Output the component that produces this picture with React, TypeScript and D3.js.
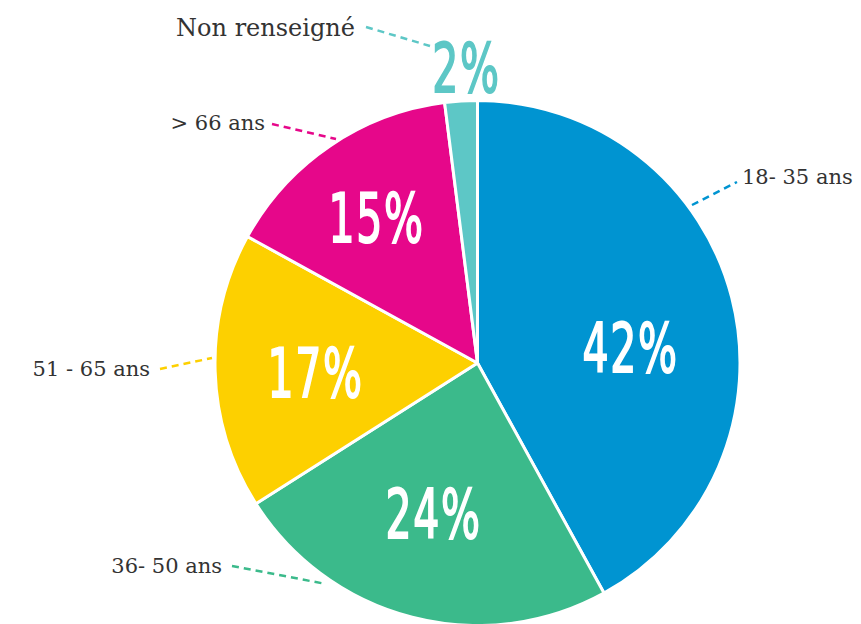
import React from "react";
import * as d3 from "d3";

const categories = ["18- 35 ans", "36- 50 ans", "51 - 65 ans", "> 66 ans", "Non renseigné"];
const values = [42, 24, 17, 15, 2];
const colors = ["#0094d1", "#3bba8b", "#fdd000", "#e6078a", "#5dc7c6"];

// layout: percent label positions (offsets from centre) and outside label anchors
const pctPos: [number, number][] = [[153, 9], [-44, 175], [-162, 34], [-101, -121], [-11, -271]];
const labelPos: { x: number; y: number; size: number; anchor: string; line: [number, number, number, number] }[] = [
  { x: 742, y: 184, size: 21, anchor: "start", line: [692, 205, 737, 182] },
  { x: 222, y: 573, size: 21, anchor: "end", line: [232, 566, 326, 584] },
  { x: 150, y: 376, size: 21, anchor: "end", line: [160, 369, 212, 358] },
  { x: 265, y: 130, size: 21, anchor: "end", line: [272, 124, 336, 139] },
  { x: 355, y: 36, size: 24, anchor: "end", line: [366, 27, 430, 46] },
];

export default function App() {
  const W = 861, H = 624;
  const cx = 477.5, cy = 363, r = 262.5;
  const pie = d3.pie<number>().sort(null).value((d) => d);
  const arcs = pie(values);
  const arc = d3.arc<d3.PieArcDatum<number>>().innerRadius(0).outerRadius(r);
  return (
    <svg width={W} height={H} style={{ position: "absolute", left: 0, top: 0, background: "#fff" }}>
      <g transform={`translate(${cx},${cy})`}>
        {arcs.map((a, i) => (
          <path key={i} d={arc(a) || ""} fill={colors[i]} stroke="#fff" strokeWidth={3} strokeLinejoin="round" />
        ))}
        {arcs.map((a, i) => (
          <g key={"p" + i} transform={`translate(${pctPos[i][0]},${pctPos[i][1]}) scale(0.8,1.2)`}>
            <text
              x={0}
              y={0}
              textAnchor="middle"
              fontFamily="'DejaVu Sans Condensed', 'DejaVu Sans', sans-serif"
              fontSize={57}
              letterSpacing={2}
              fill={i === 4 ? colors[4] : "#fff"}
              stroke={i === 4 ? colors[4] : "#fff"}
              strokeWidth={1.6}
            >
              {values[i]}%
            </text>
          </g>
        ))}
      </g>
      {labelPos.map((l, i) => (
        <g key={"l" + i}>
          <line
            x1={l.line[0]}
            y1={l.line[1]}
            x2={l.line[2]}
            y2={l.line[3]}
            stroke={colors[i]}
            strokeWidth={2.5}
            strokeDasharray="7,5"
          />
          <text
            x={l.x}
            y={l.y}
            textAnchor={l.anchor as any}
            fontFamily="'DejaVu Serif', serif"
            fontSize={l.size}
            fill="#333"
          >
            {categories[i]}
          </text>
        </g>
      ))}
    </svg>
  );
}
